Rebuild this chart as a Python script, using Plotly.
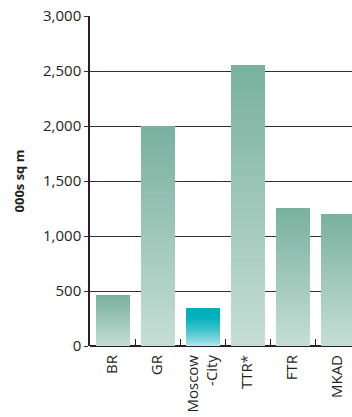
import plotly.graph_objects as go
import numpy as np

categories = ["BR", "GR", "Moscow<br>-City", "TTR*", "FTR", "MKAD"]
values = [465, 2000, 340, 2555, 1258, 1200]
highlight = [False, False, True, False, False, False]
y_ticks = [0, 500, 1000, 1500, 2000, 2500, 3000]
y_ticktext = ["0", "500", "1,000", "1,500", "2,000", "2,500", "3,000"]

N = 40

def lerp(c1, c2, t):
    return "rgb(%d,%d,%d)" % tuple(round(a + (b - a) * t) for a, b in zip(c1, c2))

green_bottom, green_top = (198, 222, 214), (120, 176, 158)
teal_bottom, teal_top = (216, 242, 245), (0, 176, 186)

fig = go.Figure()
for i in range(N):
    t = (i + 0.5) / N
    cols = []
    for h in highlight:
        if h:
            cols.append(lerp(teal_bottom, teal_top, min(1, t ** 0.6 * 1.15)))
        else:
            cols.append(lerp(green_bottom, green_top, t))
    fig.add_trace(go.Bar(
        x=categories, y=[v / N for v in values],
        marker=dict(color=cols, line=dict(width=0)),
        hoverinfo="skip", showlegend=False,
    ))

font = "Open Sans, Lato, sans-serif"
fig.update_layout(
    width=352, height=417,
    margin=dict(l=90, r=0, t=16, b=71),
    barmode="stack", bargap=0.245,
    plot_bgcolor="white", paper_bgcolor="white",
    font=dict(family=font, size=15, color="#231f20"),
    xaxis=dict(
        type="category", range=[-0.5, 5.32],
        tickangle=-90, tickson="boundaries", ticks="inside", ticklen=7,
        tickcolor="#2b1d2b", tickwidth=1.2, ticklabelstandoff=5,
        showline=False, showgrid=False, automargin=False,
        tickfont=dict(size=15),
    ),
    yaxis=dict(
        range=[0, 3000], tickvals=y_ticks, ticktext=y_ticktext,
        ticks="outside", ticklen=4, tickcolor="#3b2a3b", tickwidth=1.4,
        showgrid=True, gridcolor="#3b2a3b", gridwidth=1.4,
        showline=True, linecolor="#2b1d2b", linewidth=1.5,
        zeroline=True, zerolinecolor="#2b1d2b", zerolinewidth=1.5,
        automargin=False, layer="below traces",
        tickfont=dict(size=15),
        title=dict(text="<b>000s sq m</b>", font=dict(size=13), standoff=15),
    ),
)
fig.write_html("out.html")
